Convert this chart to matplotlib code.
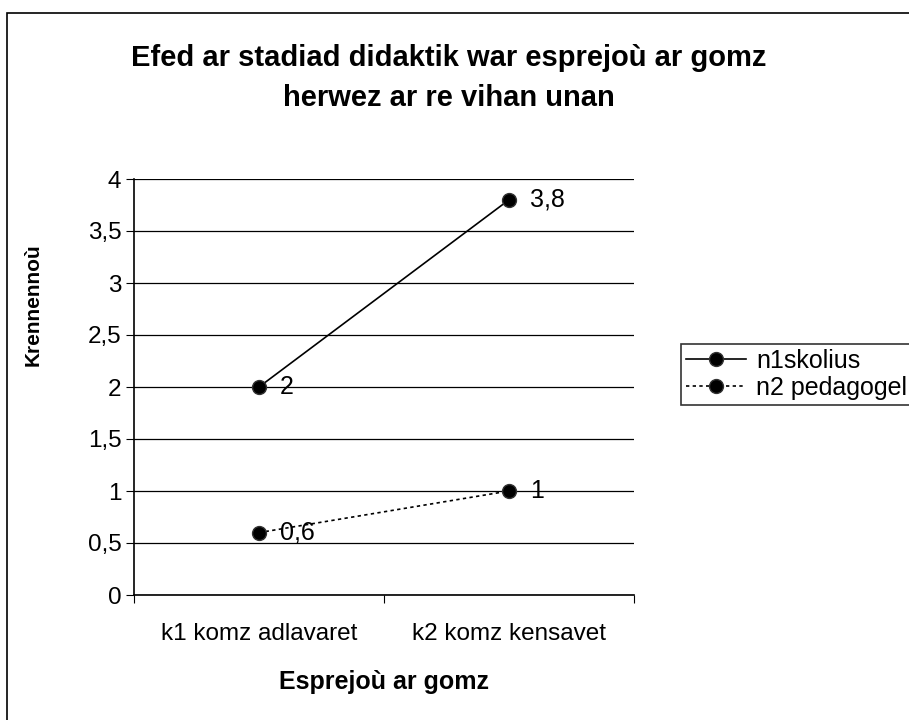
import matplotlib.pyplot as plt
from matplotlib.patches import Rectangle
from matplotlib.legend_handler import HandlerLine2D

plt.rcParams['font.family'] = ['Liberation Sans', 'DejaVu Sans']

categories = ['k1 komz adlavaret', 'k2 komz kensavet']
skolius = [2, 3.8]
pedagogel = [0.6, 1]
labels_skolius = ['2', '3,8']
labels_pedagogel = ['0,6', '1']
yticks = [0, 0.5, 1, 1.5, 2, 2.5, 3, 3.5, 4]
ytick_labels = ['0', '0,5', '1', '1,5', '2', '2,5', '3', '3,5', '4']


class LeftMarker(HandlerLine2D):
    # legend marker sits a bit left of the middle of the line, like Excel
    def get_xdata(self, legend, xdescent, ydescent, width, height, fontsize):
        return [-xdescent, -xdescent + width], [-xdescent + width * 0.42]


fig = plt.figure(figsize=(9.09, 7.2), dpi=100)

# outer chart frame (runs off the right/bottom edge)
fig.patches.append(Rectangle((7 / 909, -0.1), 1.2, 1 - 13 / 720 + 0.1,
                             transform=fig.transFigure, fill=False,
                             edgecolor='black', linewidth=1.2))

ax = fig.add_axes([134 / 909, 1 - 595 / 720, 500 / 909, 416 / 720])

x = [0.5, 1.5]
ax.plot(x, skolius, color='black', linewidth=1.2, marker='o', markersize=10,
        markerfacecolor='black', markeredgecolor='#333333', label='n1skolius')
ax.plot(x, pedagogel, color='black', linewidth=1.2, linestyle=(0, (2, 2)),
        marker='o', markersize=10, markerfacecolor='black',
        markeredgecolor='#333333', label='n2 pedagogel')

for xi, yi, t in zip(x, skolius, labels_skolius):
    ax.annotate(t, (xi, yi), xytext=(15, 0), textcoords='offset points',
                va='center', ha='left', fontsize=18)
for xi, yi, t in zip(x, pedagogel, labels_pedagogel):
    ax.annotate(t, (xi, yi), xytext=(15, 0), textcoords='offset points',
                va='center', ha='left', fontsize=18)

ax.set_xlim(0, 2)
ax.set_ylim(0, 4)
ax.set_yticks(yticks)
ax.set_yticklabels(ytick_labels, fontsize=17.5)
ax.set_xticks([0, 1, 2])
ax.set_xticklabels([])
ax.set_xticks(x, minor=True)
ax.set_xticklabels(categories, minor=True, fontsize=17.5)
ax.tick_params(axis='x', which='minor', length=0, pad=20)
ax.tick_params(axis='x', which='major', direction='out', length=6)
ax.tick_params(axis='y', direction='out', length=6, pad=3)
ax.grid(axis='y', color='black', linewidth=0.9)
ax.set_axisbelow(True)
for s in ['top', 'right']:
    ax.spines[s].set_visible(False)
for s in ['left', 'bottom']:
    ax.spines[s].set_linewidth(1.2)

ax.set_ylabel('Krennennoù', fontsize=15, fontweight='bold')
ax.yaxis.set_label_coords(-0.183, (595 - 305) / 416)
ax.set_xlabel('Esprejoù ar gomz', fontsize=18, fontweight='bold', labelpad=18)

fig.text(449 / 909, 1 - 78 / 720,
         'Efed ar stadiad didaktik war esprejoù ar gomz\nherwez ar re vihan unan',
         ha='center', va='center', fontsize=21, fontweight='bold',
         linespacing=1.5)

leg = fig.legend(loc='upper left', bbox_to_anchor=(681 / 909, 1 - 344 / 720),
                 frameon=True, fontsize=18, fancybox=False, borderpad=0.2,
                 handlelength=2.4, handletextpad=0.4, labelspacing=0.1,
                 borderaxespad=0, handler_map={plt.Line2D: LeftMarker()})
leg.get_frame().set_edgecolor('black')
leg.get_frame().set_linewidth(1.2)

fig.savefig('out.png', dpi=100)
